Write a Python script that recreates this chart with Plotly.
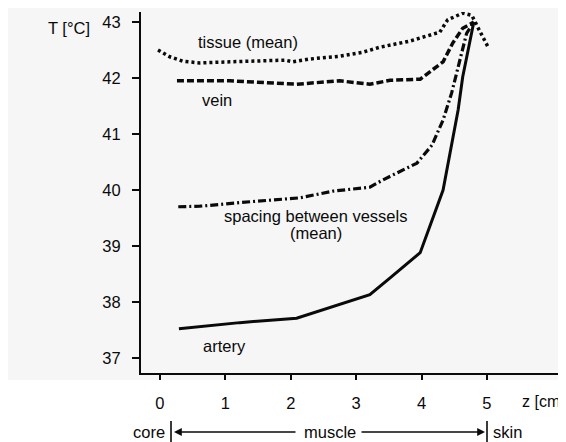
import plotly.graph_objects as go

# ---- data ----
tissue_z = [-0.03, 0.15, 0.35, 0.61, 1.07, 1.53, 1.91, 2.03, 2.29, 2.75, 3.10, 3.36, 3.82, 4.28, 4.40, 4.63, 4.77, 4.86, 5.02]
tissue_t = [42.50, 42.38, 42.30, 42.27, 42.29, 42.30, 42.32, 42.29, 42.34, 42.39, 42.46, 42.55, 42.66, 42.82, 43.04, 43.16, 43.12, 42.91, 42.55]

vein_z = [0.26, 1.07, 2.09, 2.75, 3.21, 3.52, 3.98, 4.33, 4.48, 4.63, 4.80]
vein_t = [41.95, 41.95, 41.89, 41.95, 41.89, 41.96, 41.98, 42.29, 42.63, 42.89, 43.00]

spacing_z = [0.28, 0.61, 1.38, 2.14, 2.65, 3.21, 3.41, 3.93, 4.16, 4.33, 4.46, 4.59, 4.69, 4.80]
spacing_t = [39.70, 39.71, 39.79, 39.86, 39.98, 40.05, 40.18, 40.48, 40.80, 41.25, 41.73, 42.32, 42.80, 43.00]

artery_z = [0.29, 1.22, 2.09, 2.80, 3.21, 3.52, 3.98, 4.33, 4.48, 4.56, 4.63, 4.71, 4.80]
artery_t = [37.52, 37.63, 37.71, 37.98, 38.13, 38.43, 38.88, 40.00, 40.95, 41.43, 42.02, 42.50, 43.00]

x_ticks = [0, 1, 2, 3, 4, 5]
y_ticks = [37, 38, 39, 40, 41, 42, 43]

FONT = "Liberation Sans, Arial, Helvetica, sans-serif"
INK = "#0a0a0a"
FS = 16.5

# page body has an 8px margin; the figure is sized so the plot area lands at
# x 141..566, y 12..373 in the window
PLOT_W, PLOT_H = 425, 361

fig = go.Figure()
fig.add_trace(go.Scatter(x=tissue_z, y=tissue_t, mode="lines",
                         line=dict(color=INK, width=3.5, dash="3px,3px")))
fig.add_trace(go.Scatter(x=vein_z, y=vein_t, mode="lines",
                         line=dict(color=INK, width=3.5, dash="7px,3px")))
fig.add_trace(go.Scatter(x=spacing_z, y=spacing_t, mode="lines",
                         line=dict(color=INK, width=3.2, dash="8px,3px,2px,3px")))
fig.add_trace(go.Scatter(x=artery_z, y=artery_t, mode="lines",
                         line=dict(color=INK, width=3)))

ann = []
def label(text, x, y, xanchor="center", xref="x", yref="y", size=FS):
    ann.append(dict(text=text, x=x, y=y, xref=xref, yref=yref, showarrow=False,
                    xanchor=xanchor, yanchor="middle",
                    font=dict(family=FONT, size=size, color=INK)))

def px(xpix):      # window pixel -> paper x
    return (xpix - 141) / PLOT_W

def py(ypix):      # window pixel -> paper y
    return (373 - ypix) / PLOT_H

# curve labels (data coordinates)
label("tissue (mean)", 1.35, 42.64)
label("vein", 0.87, 41.61)
label("spacing between vessels", 2.38, 39.54)
label("(mean)", 2.38, 39.24)
label("artery", 0.99, 37.21)

# axis titles
label("T [°C]", px(69), py(28), xref="paper", yref="paper")
label("z [cm]", px(520), py(401), xanchor="left", xref="paper", yref="paper", size=16)

# bottom region row
row_y = py(432)
label("core", px(167), row_y, xanchor="right", xref="paper", yref="paper")
label("muscle", px(330), row_y, xref="paper", yref="paper")
label("skin", px(491), row_y, xanchor="left", xref="paper", yref="paper")

for head, tail in [(174, 297), (485, 360)]:
    ann.append(dict(text="", x=px(head), y=row_y, xref="paper", yref="paper",
                    ax=tail - head, ay=0, axref="pixel", ayref="pixel",
                    showarrow=True, arrowhead=2, arrowsize=1.2, arrowwidth=1.3,
                    arrowcolor=INK))

shapes = [
    dict(type="rect", xref="paper", yref="paper", x0=px(0), x1=1.0, y0=py(380), y1=py(4),
         fillcolor="#f6f6f6", line=dict(width=0), layer="below"),
]
for xb in [171, 487]:
    shapes.append(dict(type="line", xref="paper", yref="paper", x0=px(xb), x1=px(xb),
                       y0=py(421), y1=py(442),
                       line=dict(color=INK, width=1.6)))

fig.update_layout(
    width=558, height=434,
    margin=dict(l=133, r=0, t=4, b=69, autoexpand=False),
    paper_bgcolor="white", plot_bgcolor="rgba(0,0,0,0)",
    showlegend=False,
    font=dict(family=FONT, size=FS, color=INK),
    annotations=ann, shapes=shapes,
)
fig.update_xaxes(range=[-0.29, 6.21], tickvals=x_ticks, ticktext=[str(v) for v in x_ticks],
                 showgrid=False, zeroline=False, showline=True, linecolor=INK, linewidth=2,
                 ticks="outside", ticklen=5, tickwidth=2, tickcolor=INK, automargin=False,
                 ticklabelstandoff=9, tickfont=dict(family=FONT, size=FS, color=INK))
fig.update_yaxes(range=[36.73, 43.18], tickvals=y_ticks, ticktext=[str(v) for v in y_ticks],
                 showgrid=False, zeroline=False, showline=True, linecolor=INK, linewidth=2,
                 ticks="outside", ticklen=7, tickwidth=2, tickcolor=INK, automargin=False,
                 ticklabelstandoff=8, tickfont=dict(family=FONT, size=FS, color=INK))

fig.write_html("out.html")
